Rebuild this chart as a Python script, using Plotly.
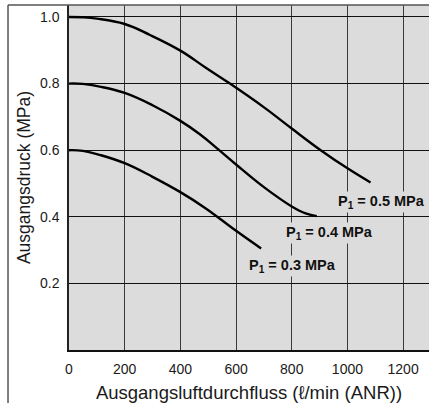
import plotly.graph_objects as go

# Data
x_05 = [0, 50, 100, 200, 291, 400, 494, 578, 698, 800, 904, 1003, 1083]
y_05 = [1.0, 0.999, 0.995, 0.979, 0.946, 0.899, 0.846, 0.80, 0.73, 0.665, 0.60, 0.544, 0.503]
x_04 = [0, 50, 110, 200, 300, 400, 470, 535, 600, 700, 800, 850, 890]
y_04 = [0.8, 0.799, 0.791, 0.772, 0.735, 0.688, 0.648, 0.603, 0.557, 0.489, 0.431, 0.41, 0.402]
x_03 = [0, 50, 110, 200, 300, 400, 490, 600, 690]
y_03 = [0.6, 0.598, 0.586, 0.561, 0.52, 0.474, 0.426, 0.358, 0.305]

x_ticks = [0, 200, 400, 600, 800, 1000, 1200]
y_ticks = [0.2, 0.4, 0.6, 0.8, 1.0]
y_ticklabels = ["0.2", "0.4", "0.6", "0.8", "1.0"]

labels = ["P<sub>1</sub> = 0.5 MPa", "P<sub>1</sub> = 0.4 MPa", "P<sub>1</sub> = 0.3 MPa"]
label_x = [1124, 934, 804]
label_y = [0.444, 0.351, 0.252]

FONT = "Liberation Sans, Arial, sans-serif"

fig = go.Figure()
for xs, ys in [(x_05, y_05), (x_04, y_04), (x_03, y_03)]:
    fig.add_trace(go.Scatter(x=xs, y=ys, mode="lines",
                             line=dict(color="black", width=2.4, shape="spline", smoothing=1.2),
                             showlegend=False, hoverinfo="skip"))

for t, lx, ly in zip(labels, label_x, label_y):
    fig.add_annotation(x=lx, y=ly, text="<b>" + t + "</b>", showarrow=False,
                       font=dict(family=FONT, size=14.5, color="#111"),
                       bgcolor="#dcdcdc", borderpad=1, xanchor="center", yanchor="middle")

fig.update_layout(
    width=429, height=403,
    margin=dict(l=69, r=0, t=5, b=53),
    paper_bgcolor="white", plot_bgcolor="#dcdcdc",
    font=dict(family=FONT, color="#1a1a1a"),
    xaxis=dict(range=[0, 1293], tickvals=x_ticks, showgrid=True, gridcolor="#3a3a3a", gridwidth=1.2,
               zeroline=False, showline=True, linecolor="#111", linewidth=1.5, mirror=False,
               ticks="", tickfont=dict(size=14), ticklabelstandoff=5,
               title=dict(text="Ausgangsluftdurchfluss (ℓ/min (ANR))", font=dict(size=18.5), standoff=11)),
    yaxis=dict(range=[0, 1.036], tickvals=y_ticks, ticktext=y_ticklabels, showgrid=True, gridcolor="#111", gridwidth=1.2,
               zeroline=False, showline=True, linecolor="#222", linewidth=1.5,
               ticks="", tickfont=dict(size=14), ticklabelstandoff=5,
               title=dict(text="Ausgangsdruck (MPa)", font=dict(size=17.5), standoff=5)),
)

# outer frame lines (left and top)
fig.add_shape(type="line", xref="paper", yref="paper", x0=-0.1694, x1=-0.1694, y0=-0.16, y1=1.0,
              line=dict(color="#555", width=1.5))
fig.add_shape(type="line", xref="paper", yref="paper", x0=-0.1694, x1=1.0, y0=1.0, y1=1.0,
              line=dict(color="#555", width=1.5))

fig.write_html("out.html")
